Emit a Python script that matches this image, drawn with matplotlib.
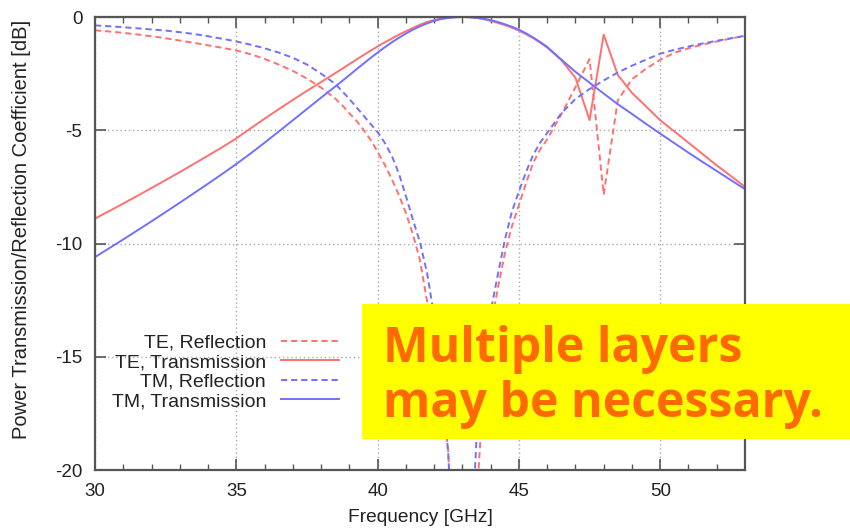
import matplotlib
matplotlib.use("Agg")
import matplotlib.pyplot as plt
from matplotlib.patches import Rectangle
import numpy as np

plt.rcParams['font.family'] = ['Liberation Sans', 'DejaVu Sans']
plt.rcParams['axes.unicode_minus'] = False

# ---- data ----
freq = [30.0, 30.5, 31.0, 31.5, 32.0, 32.5, 33.0, 33.5, 34.0, 34.5,
        35.0, 35.5, 36.0, 36.5, 37.0, 37.5, 38.0, 38.5,
        38.75, 39.0, 39.25, 39.5, 39.75, 40.0, 40.25, 40.5, 40.75, 41.0,
        41.25, 41.5, 41.75, 42.0, 42.25, 42.5, 42.75, 43.0, 43.25, 43.5,
        43.75, 44.0, 44.25, 44.5, 44.75, 45.0, 45.25, 45.5, 45.75, 46.0,
        46.5, 47.0, 47.5, 48.0, 48.5, 49.0, 49.5, 50.0, 50.5, 51.0, 51.5, 52.0, 52.5, 53.0]

te_reflection = [-0.59, -0.64, -0.70, -0.77, -0.85, -0.94, -1.04, -1.14, -1.25, -1.36,
                 -1.48, -1.64, -1.85, -2.10, -2.38, -2.72, -3.12, -3.60,
                 -3.90, -4.25, -4.58, -4.98, -5.42, -5.95, -6.52, -7.15, -7.85, -8.65,
                 -9.60, -10.75, -12.55, -14.2, -16.2, -19.2, -26.0, -40.0, -28.0, -21.5,
                 -16.3, -13.7, -12.0, -10.45, -9.25, -8.30, -7.35, -6.45, -5.85, -5.40,
                 -4.30, -3.10, -1.86, -7.84, -3.67, -2.75, -2.28, -1.89, -1.58, -1.38, -1.22, -1.08, -0.95, -0.83]

te_transmission = [-8.90, -8.57, -8.235, -7.895, -7.55, -7.20, -6.845, -6.485, -6.12, -5.75,
                   -5.36, -4.92, -4.49, -4.07, -3.66, -3.26, -2.87, -2.48,
                   -2.28, -2.08, -1.88, -1.68, -1.49, -1.30, -1.12, -0.95, -0.78, -0.63,
                   -0.48, -0.34, -0.22, -0.13, -0.07, -0.03, -0.01, 0.0, -0.01, -0.04,
                   -0.09, -0.17, -0.26, -0.36, -0.47, -0.60, -0.76, -0.93, -1.13, -1.35,
                   -1.90, -2.68, -4.55, -0.78, -2.56, -3.35, -3.95, -4.56, -5.05, -5.55, -6.05, -6.55, -7.02, -7.50]

tm_reflection = [-0.37, -0.41, -0.45, -0.50, -0.55, -0.60, -0.67, -0.75, -0.85, -0.96,
                 -1.08, -1.22, -1.38, -1.57, -1.80, -2.10, -2.50, -2.95,
                 -3.28, -3.62, -3.98, -4.35, -4.72, -5.08, -5.55, -6.12, -6.90, -7.90,
                 -8.95, -9.95, -11.3, -13.2, -15.6, -19.3, -26.0, -40.0, -25.0, -18.6,
                 -15.2, -13.0, -11.4, -9.85, -8.60, -7.70, -6.85, -6.10, -5.55, -5.12,
                 -4.25, -3.62, -3.18, -2.80, -2.45, -2.15, -1.88, -1.62, -1.45, -1.30, -1.17, -1.05, -0.94, -0.83]

tm_transmission = [-10.60, -10.21, -9.82, -9.42, -9.02, -8.61, -8.20, -7.78, -7.36, -6.93,
                   -6.49, -6.03, -5.55, -5.06, -4.56, -4.06, -3.56, -3.07,
                   -2.82, -2.57, -2.31, -2.06, -1.81, -1.57, -1.34, -1.12, -0.92, -0.73,
                   -0.56, -0.41, -0.28, -0.17, -0.09, -0.04, -0.01, 0.0, -0.01, -0.03,
                   -0.08, -0.14, -0.22, -0.32, -0.43, -0.56, -0.72, -0.90, -1.10, -1.32,
                   -1.88, -2.42, -2.90, -3.38, -3.85, -4.28, -4.72, -5.15, -5.57, -5.99, -6.40, -6.80, -7.20, -7.60]

x_ticks = [30, 35, 40, 45, 50]
y_ticks = [0, -5, -10, -15, -20]

series_labels = ["TE, Reflection", "TE, Transmission", "TM, Reflection", "TM, Transmission"]
note_lines = ["Multiple layers", "may be necessary."]

# ---- figure ----
W, H = 850, 528
fig = plt.figure(figsize=(W / 100, H / 100), dpi=100)
ax = fig.add_axes([95 / W, 1 - 470 / H, 650 / W, 453 / H])

red = '#ff7070'
blue = '#7070ff'
dash = (0, (3.2, 2.0))
lw = 1.4

ax.plot(freq, te_reflection, color=red, lw=lw, linestyle=dash, label=series_labels[0])
ax.plot(freq, te_transmission, color=red, lw=lw, label=series_labels[1])
ax.plot(freq, tm_reflection, color=blue, lw=lw, linestyle=dash, label=series_labels[2])
ax.plot(freq, tm_transmission, color=blue, lw=lw, label=series_labels[3])

ax.set_xlim(30, 53)
ax.set_ylim(-20, 0)
ax.set_xticks(x_ticks)
ax.set_yticks(y_ticks)
ax.set_xticks(np.arange(31, 53, 1), minor=True)
ax.set_xticklabels([str(t) for t in x_ticks])
ax.set_yticklabels([str(t) for t in y_ticks])

ax.grid(True, which='major', color='#aaaaaa', linestyle=(0, (1, 2)), linewidth=1.0)
ax.set_axisbelow(True)

for s in ax.spines.values():
    s.set_color('#555555')
    s.set_linewidth(1.6)

ax.tick_params(which='major', direction='in', length=8, width=1.2, color='#555555',
               top=True, right=True, labelsize=13.5, labelcolor='#222222', pad=9)
ax.tick_params(which='minor', direction='in', length=4.5, width=1.0, color='#555555',
               top=True, bottom=True)

ax.set_xlabel("Frequency [GHz]", fontsize=13.8, color='#222222')
ax.set_ylabel("Power Transmission/Reflection Coefficient [dB]", fontsize=14.5, color='#222222')
ax.xaxis.set_label_coords(0.5, -0.085)
ax.yaxis.set_label_coords(-0.098, 0.53)

leg = ax.legend(loc='upper right', bbox_to_anchor=(339 / W, 1 - 334 / H),
                bbox_transform=fig.transFigure, frameon=False, markerfirst=False,
                fontsize=14, handlelength=3.0, handletextpad=0.75,
                labelspacing=0.1, borderpad=0, borderaxespad=0)
for t in leg.get_texts():
    t.set_color('#222222')

# ---- yellow note box ----
fig.patches.append(Rectangle((362 / W, 1 - 439 / H), (W - 362) / W, (439 - 304) / H,
                             transform=fig.transFigure, facecolor='#ffff00',
                             edgecolor='none', zorder=10))
note_kw = dict(fontweight='bold', color='#ff6a00', family=['Open Sans', 'DejaVu Sans'],
               ha='left', va='baseline', zorder=11)
t1 = fig.text(383 / W, 1 - 362 / H, note_lines[0], fontsize=34, **note_kw)
t2 = fig.text(383 / W, 1 - 417 / H, note_lines[1], fontsize=34, **note_kw)
# fit the second line to the width it has in the reference (about 440 px)
r = fig.canvas.get_renderer()
wpx = t2.get_window_extent(r).width
size = 34 * 440 / wpx
t1.set_fontsize(size)
t2.set_fontsize(size)

fig.savefig("out.png", dpi=100)
